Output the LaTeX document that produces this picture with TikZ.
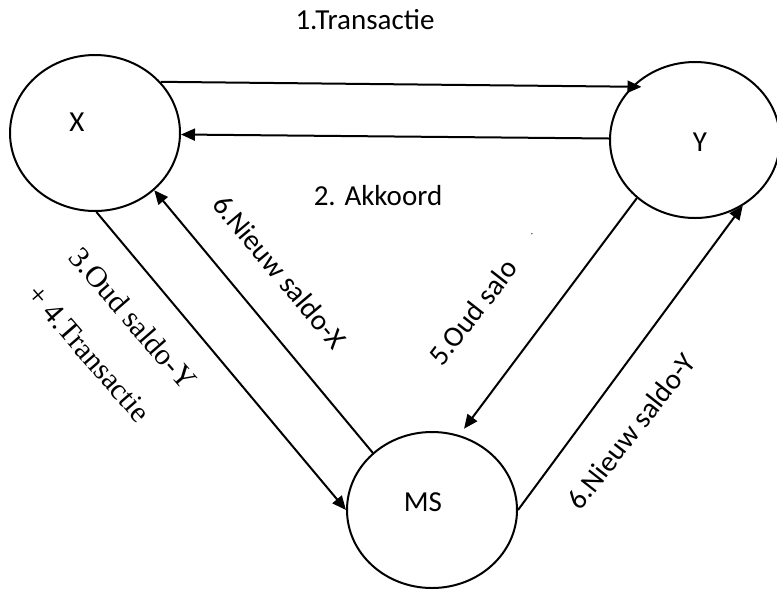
\documentclass[tikz,border=0pt]{standalone}
\usepackage{fontspec}
\setmainfont{Carlito}
\newfontfamily\timesfont{Liberation Serif}
\usetikzlibrary{shapes.geometric, arrows.meta, positioning}

\begin{document}
\begin{tikzpicture}[
        x=0.5pt, y=-0.5pt,
        party/.style={ellipse, draw, line width=1pt, minimum width=85pt, minimum height=78pt, inner sep=0pt},
        partyname/.style={font=\fontsize{14.5}{17}\selectfont, inner sep=0pt},
        arrow/.style={-{Triangle[length=7pt,width=6pt]}, line width=1pt},
        lbl/.style={font=\fontsize{14.5}{17}\selectfont, inner sep=0pt},
        tlbl/.style={font=\timesfont\fontsize{15}{18}\selectfont, inner sep=0pt, align=left}
    ]
        \useasboundingbox (0,0) rectangle (777,590);

        % partijen
        \node[party] (X) at (95,133) {};
        \node[party] (Y) at (695,140) {};
        \node[party] (MS) at (432,510) {};
        \node[partyname] (xname) at (77,122) {X};
        \node[partyname] (yname) at (700,142) {Y};
        \node[partyname] (msname) at (423,502) {MS};

        % pijlen
        \draw[arrow, shorten >=-5pt] (X.38) -- (Y.140);
        \draw[arrow] (Y.179) -- (X.-1);
        \draw[arrow] (X.-89) -- (MS.180);
        \draw[arrow] (MS.136) -- (X.-44);
        \draw[arrow, shorten >=4pt] (Y.225) -- (MS.70);
        \draw[arrow] (MS.0) -- (Y.306);

        % teksten
        \node[lbl] (transactie) at (365,20) {1.Transactie};
        \node[lbl] (akkoord) at (378,196) {2. Akkoord};
        \node[tlbl, rotate=-49] (oudx) at (112,337) {3.Oud saldo-Y\\[10pt]+ 4.Transactie};
        \node[lbl, rotate=-50] (nieuwx) at (280,272) {6.Nieuw saldo-X};
        \node[lbl, rotate=52] (oudy) at (473,312) {5.Oud salo};
        \node[lbl, rotate=52, font=\tiny] (speck) at (532,234) {.};
        \node[lbl, rotate=52] (nieuwy) at (631,431) {6.Nieuw saldo-Y};
    \end{tikzpicture}
\end{document}
